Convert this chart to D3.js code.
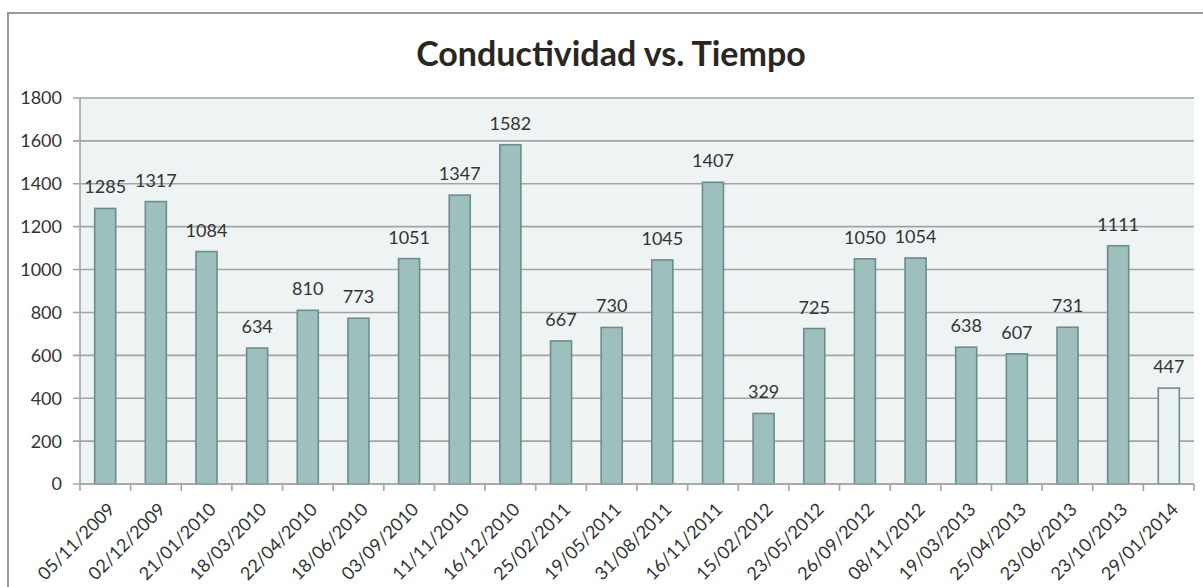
<!DOCTYPE html>
<html>
<head>
<meta charset="utf-8">
<script src="https://cdn.jsdelivr.net/npm/d3@7"></script>
<style>
  body { margin: 0; background: #fff; }
  svg { display: block; font-family: Lato, "Liberation Sans", sans-serif; }
</style>
</head>
<body>
<svg width="1203" height="587"></svg>
<script>
const fechas = ["05/11/2009", "02/12/2009", "21/01/2010", "18/03/2010", "22/04/2010", "18/06/2010",
  "03/09/2010", "11/11/2010", "16/12/2010", "25/02/2011", "19/05/2011", "31/08/2011", "16/11/2011",
  "15/02/2012", "23/05/2012", "26/09/2012", "08/11/2012", "19/03/2013", "25/04/2013", "23/06/2013",
  "23/10/2013", "29/01/2014"];
const conductividad = [1285, 1317, 1084, 634, 810, 773, 1051, 1347, 1582, 667, 730, 1045, 1407,
  329, 725, 1050, 1054, 638, 607, 731, 1111, 447];
const yTicks = [0, 200, 400, 600, 800, 1000, 1200, 1400, 1600, 1800];
const titulo = "Conductividad vs. Tiempo";

const svg = d3.select("svg");
const margin = { left: 80, right: 1194, top: 98, bottom: 484 };

// chart frame (runs off the right and bottom edges)
svg.append("rect")
  .attr("x", 8).attr("y", 13)
  .attr("width", 1210).attr("height", 600)
  .attr("fill", "#fff")
  .attr("stroke", "#9a9a9a").attr("stroke-width", 2);

svg.append("text")
  .attr("x", 611).attr("y", 66)
  .attr("text-anchor", "middle")
  .attr("font-size", 34).attr("font-weight", "bold")
  .attr("fill", "#2a2620")
  .text(titulo);

const x = d3.scaleBand()
  .domain(fechas)
  .range([margin.left, margin.right])
  .paddingInner(0.585).paddingOuter(0.29);

const y = d3.scaleLinear()
  .domain([0, 1800])
  .range([margin.bottom, margin.top]);

svg.append("rect")
  .attr("x", margin.left).attr("y", margin.top)
  .attr("width", margin.right - margin.left)
  .attr("height", margin.bottom - margin.top)
  .attr("fill", "#eef4f4");

// gridlines + y ticks
svg.append("g")
  .selectAll("line")
  .data(yTicks)
  .join("line")
  .attr("x1", margin.left - 7).attr("x2", margin.right)
  .attr("y1", d => y(d)).attr("y2", d => y(d))
  .attr("stroke", "#a3a3a3").attr("stroke-width", 1.6);

svg.append("g")
  .selectAll("text")
  .data(yTicks)
  .join("text")
  .attr("x", 62).attr("y", d => y(d))
  .attr("dy", "0.36em")
  .attr("text-anchor", "end")
  .attr("font-size", 18)
  .attr("fill", "#333")
  .text(d => d);

// bars
svg.append("g")
  .selectAll("rect")
  .data(conductividad)
  .join("rect")
  .attr("x", (d, i) => x(fechas[i]))
  .attr("y", d => y(d))
  .attr("width", x.bandwidth())
  .attr("height", d => y(0) - y(d))
  .attr("fill", (d, i) => i === fechas.length - 1 ? "#eaf3f3" : "#9dbfbd")
  .attr("stroke", "#6d8d8b").attr("stroke-width", 1.6);

// value labels
svg.append("g")
  .selectAll("text")
  .data(conductividad)
  .join("text")
  .attr("x", (d, i) => x(fechas[i]) + x.bandwidth() / 2)
  .attr("y", d => y(d) - 15)
  .attr("text-anchor", "middle")
  .attr("font-size", 18)
  .attr("fill", "#333")
  .text(d => d);

// axes lines
svg.append("line")
  .attr("x1", margin.left).attr("x2", margin.left)
  .attr("y1", margin.top).attr("y2", margin.bottom)
  .attr("stroke", "#a3a3a3").attr("stroke-width", 1.6);

const bounds = d3.range(fechas.length + 1).map(i => margin.left + i * (margin.right - margin.left) / fechas.length);
svg.append("g")
  .selectAll("line")
  .data(bounds)
  .join("line")
  .attr("x1", d => d).attr("x2", d => d)
  .attr("y1", margin.bottom).attr("y2", margin.bottom + 7)
  .attr("stroke", "#a3a3a3").attr("stroke-width", 1.6);

svg.append("line")
  .attr("x1", margin.left).attr("x2", margin.right)
  .attr("y1", margin.bottom).attr("y2", margin.bottom)
  .attr("stroke", "#a3a3a3").attr("stroke-width", 1.6);

// category labels
svg.append("g")
  .selectAll("text")
  .data(fechas)
  .join("text")
  .attr("transform", d => `translate(${x(d) + x.bandwidth() / 2 + 6},${margin.bottom + 22}) rotate(-45)`)
  .attr("text-anchor", "end")
  .attr("dy", "0.36em")
  .attr("font-size", 18)
  .attr("fill", "#333")
  .text(d => d);
</script>
</body>
</html>
